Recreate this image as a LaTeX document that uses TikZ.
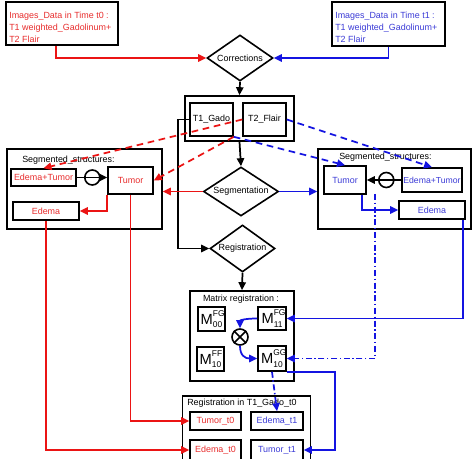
\documentclass[tikz,border=0pt]{standalone}
\usepackage{fontspec}
\setmainfont{Liberation Sans}
\usetikzlibrary{shapes.geometric,arrows.meta}

\definecolor{lred}{RGB}{235,20,20}
\definecolor{lblue}{RGB}{20,20,225}
\definecolor{tred}{RGB}{232,45,45}
\definecolor{tblue}{RGB}{60,60,215}

% matrix symbol with super- and subscript
\newcommand{\mtx}[2]{{\fontsize{11}{11}\selectfont M}\rlap{\raisebox{6pt}{\fontsize{6.3}{6.3}\selectfont #1}}\raisebox{-2.5pt}{\fontsize{6.3}{6.3}\selectfont #2}}

\tikzset{
  sz/.style 2 args={minimum width=#1*0.75pt, minimum height=#2*0.75pt},
  blk/.style={draw, line width=1.2pt, inner sep=0pt, font=\fontsize{6.7}{9.2}\selectfont},
  decision/.style={diamond, blk, shape aspect=1.45},
  lbl/.style={inner sep=0pt, font=\fontsize{6.7}{9.2}\selectfont},
  opnode/.style={draw, circle, line width=1.2pt, inner sep=0pt},
  headtip/.style={-{Triangle[length=6pt,width=5.5pt]}},
  redln/.style={draw=lred, line width=1.3pt, headtip},
  blueln/.style={draw=lblue, line width=1.3pt, headtip},
  blackln/.style={draw=black, line width=1.3pt, headtip},
  dsh/.style={dash pattern=on 5pt off 3.5pt},
  dshdot/.style={dash pattern=on 4.5pt off 2pt on 1pt off 2pt},
}

\begin{document}
\begin{tikzpicture}[x=0.75pt,y=0.75pt,yscale=-1,xscale=1]
	\fill[white] (0,0) rectangle (472,459);
	\useasboundingbox (0,0) rectangle (472,459);

	% Source images
	\node[blk, sz={112}{43}] (srcA) at (62,23.5) {};
	\node[lbl, anchor=north west, align=left, text=tred] (srcAt) at (9,11.5) {Images\_Data in Time t0 :\\T1 weighted\_Gadolinum+\\T2 Flair};
	\node[blk, sz={113}{44}] (srcB) at (388.5,24) {};
	\node[lbl, anchor=north west, align=left, text=tblue] (srcBt) at (335,11.5) {Images\_Data in Time t1 :\\T1 weighted\_Gadolinum+\\T2 Flair};

	% Processing steps
	\node[decision, sz={66}{46}] (corr) at (240,58) {Corrections};
	\node[blk, sz={109}{45}] (inbox) at (239.5,118.5) {};
	\node[blk, sz={43}{33}] (gado) at (211.5,119.5) {T1\_Gado};
	\node[blk, sz={43}{33}] (flair) at (264.5,119.5) {T2\_Flair};
	\node[decision, sz={75}{49}] (seg) at (241,191.5) {Segmentation};
	\node[decision, sz={65}{47}] (reg) at (242.5,248.5) {Registration};

	% Segmented structures, time t0
	\node[blk, sz={155}{80}] (segL) at (84.5,189) {};
	\node[lbl, anchor=west] (segLt) at (22,160) {Segmented\_structures:};
	\node[blk, sz={65}{17}, text=tred] (edtuL) at (43.5,177.5) {Edema+Tumor};
	\node[blk, sz={45}{27}, text=tred] (tuL) at (130.5,180.5) {Tumor};
	\node[blk, sz={66}{18}, text=tred] (edL) at (46,211) {Edema};

	% Segmented structures, time t1
	\node[blk, sz={153}{80}] (segR) at (394.5,189) {};
	\node[lbl, anchor=west] (segRt) at (339,157) {Segmented\_structures:};
	\node[blk, sz={42}{28}, text=tblue] (tuR) at (345,180) {Tumor};
	\node[blk, sz={60}{24}, text=tblue, font=\fontsize{6.5}{9}\selectfont] (edtuR) at (432,180) {Edema+Tumor};
	\node[blk, sz={66}{18}, text=tblue] (edR) at (432,210) {Edema};

	% Matrix registration
	\node[blk, sz={104}{90}] (mat) at (242,336) {};
	\node[lbl] (matt) at (241,299) {Matrix registration :};
	\node[blk, sz={27}{24}] (mfg0) at (211.5,319) {\mtx{FG}{00}};
	\node[blk, sz={28}{23}] (mfg1) at (272,318.5) {\mtx{FG}{11}};
	\node[blk, sz={27}{24}] (mff) at (210.5,359) {\mtx{FF}{10}};
	\node[blk, sz={28}{25}] (mgg) at (272,358.5) {\mtx{GG}{10}};
	\node[opnode, minimum size=12pt] (prod) at (240,337) {};
	\draw[line width=1.2pt] (prod.north west) -- (prod.south east) (prod.north east) -- (prod.south west);

	% Registration in T1_Gado_t0
	\node[blk, sz={128}{74}] (regbox) at (246.5,433) {};
	\node[lbl, anchor=west] (regt) at (187,403.5) {Registration in T1\_Gado\_t0};
	\node[blk, sz={51}{18}, text=tred] (tt0) at (215.5,421) {Tumor\_t0};
	\node[blk, sz={52}{18}, text=tblue] (et1) at (277,421) {Edema\_t1};
	\node[blk, sz={51}{20}, text=tred] (et0) at (215.5,450) {Edema\_t0};
	\node[blk, sz={52}{20}, text=tblue] (tt1) at (277,450) {Tumor\_t1};

	% Connection
	\draw[redln] ([xshift=-4.5pt]srcA.south) |- (corr.west);
	\draw[blueln] (srcB.south) |- (corr.east);
	\draw[blackln] (corr.south) -- (inbox.north);
	\draw[blackln] (inbox.south) -- (seg.north);
	\draw[blackln] (gado.west) -- ++(-11,0) |- (reg.west);
	\draw[blackln] (reg.south) -- (mat.north);
	\draw[redln] (seg.west) -- (seg.west -| segL.east);
	\draw[blueln] (seg.east) -- (seg.east -| segR.west);

	% Dashed connections
	\draw[redln, dsh] (flair.west) -- (edtuL.north);
	\draw[redln, dsh] (gado.south east) -- (tuL.east);
	\draw[blueln, dsh] (flair.east) -- (edtuR.north);
	\draw[blueln, dsh] (gado.south east) -- (tuR.north);

	% Inside segmented structures
	\draw[blackln] (edtuL.east) -- (edtuL.east -| tuL.west);
	\node[opnode, minimum size=11.25pt] (opL) at (92.3,177.5) {};
	\draw[blackln] (edtuR.west) -- (tuR.east);
	\node[opnode, minimum size=11.25pt] (opR) at (386.3,180) {};
	\draw[redln] (tuL.south west) |- (edL.east);
	\draw[blueln] ([xshift=-3.75pt]tuR.south east) |- (edR.west);

	% Down to registration
	\draw[redln] (tuL.south) |- (tt0.west);
	\draw[redln] (edL.south) |- (et0.west);
	\coordinate (ddtop) at (375.3,194);
	\draw[blueln, dshdot] (ddtop) |- (mgg.east);
	\draw[blueln] ([xshift=-2.25pt]edR.south east) |- (mfg1.east);
	\draw[blueln] (mfg1.west) .. controls +(-12,0) and +(0,-8) .. (prod.north);
	\draw[blueln] (prod.south) .. controls +(0,10) and +(-12,0) .. (mgg.west);
	\draw[blueln, dshdot] (mgg.south) -- (et1.north);
	\draw[blueln] (mgg.south east) -- ++(48,0) |- (tt1.east);

\end{tikzpicture}
\end{document}
